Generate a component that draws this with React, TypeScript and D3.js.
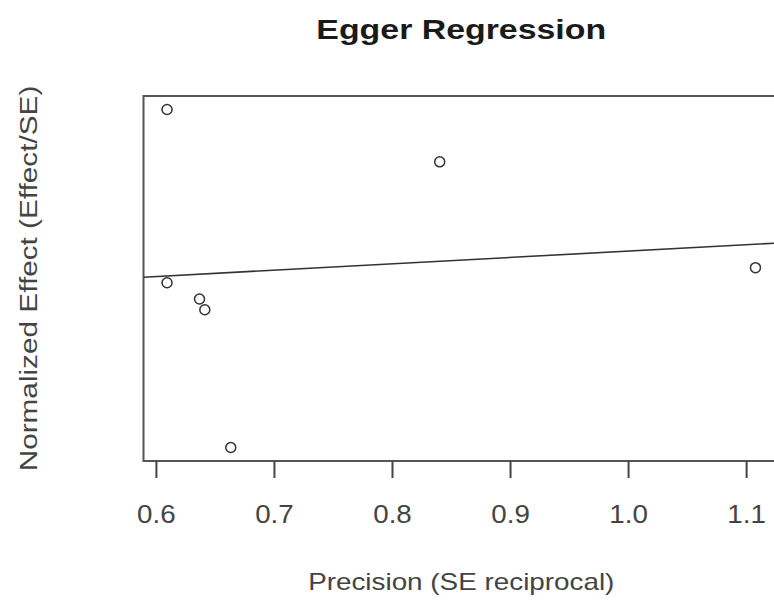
import React, { useEffect, useRef } from "react";
import * as d3 from "d3";

// Egger regression: precision (1/SE) vs normalized effect (Effect/SE)
const precision = [0.609, 0.609, 0.6365, 0.641, 0.663, 0.84, 1.1075];
const normEffect = [3.15, 0.27, 0.0, -0.18, -2.47, 2.28, 0.52];
const xTicks = [0.6, 0.7, 0.8, 0.9, 1.0, 1.1];

const TITLE = "Egger Regression";
const X_LABEL = "Precision (SE reciprocal)";
const Y_LABEL = "Normalized Effect (Effect/SE)";

const App: React.FC = () => {
    const svgRef = useRef<SVGSVGElement | null>(null);

    useEffect(() => {
        if (!svgRef.current) return;
        const WIDTH = 774;
        const HEIGHT = 604;
        const BOX = { left: 143.5, top: 96, right: 779, bottom: 461 };

        const svg = d3.select(svgRef.current);
        svg.selectAll("*").remove();
        svg.attr("width", WIDTH).attr("height", HEIGHT);

        const font = "'Liberation Sans', Arial, sans-serif";
        const pts = precision.map((x, i) => ({ x, y: normEffect[i] }));

        // R style: data range padded by 4% on each side
        const pad = (ext: [number, number]) => {
            const d = (ext[1] - ext[0]) * 0.04;
            return [ext[0] - d, ext[1] + d];
        };
        const xScale = d3.scaleLinear()
            .domain(pad(d3.extent(precision) as [number, number]))
            .range([BOX.left, BOX.right]);
        const yScale = d3.scaleLinear()
            .domain(pad(d3.extent(normEffect) as [number, number]))
            .range([BOX.bottom, BOX.top]);

        // ── least squares fit ──
        const mx = d3.mean(precision)!;
        const my = d3.mean(normEffect)!;
        const sxy = d3.sum(pts, (p) => (p.x - mx) * (p.y - my));
        const sxx = d3.sum(pts, (p) => (p.x - mx) ** 2);
        const slope = sxy / sxx;
        const intercept = my - slope * mx;

        const defs = svg.append("defs");
        defs.append("clipPath").attr("id", "plot-clip")
            .append("rect")
            .attr("x", BOX.left).attr("y", BOX.top)
            .attr("width", BOX.right - BOX.left).attr("height", BOX.bottom - BOX.top);

        // ── box ──
        svg.append("rect")
            .attr("x", BOX.left).attr("y", BOX.top)
            .attr("width", BOX.right - BOX.left).attr("height", BOX.bottom - BOX.top)
            .attr("fill", "none").attr("stroke", "#555").attr("stroke-width", 2);

        // ── x axis ticks ──
        const axis = svg.append("g");
        axis.selectAll("line")
            .data(xTicks)
            .enter()
            .append("line")
            .attr("x1", (d) => xScale(d)).attr("x2", (d) => xScale(d))
            .attr("y1", BOX.bottom).attr("y2", BOX.bottom + 17)
            .attr("stroke", "#444").attr("stroke-width", 2);
        axis.selectAll("text")
            .data(xTicks)
            .enter()
            .append("text")
            .attr("transform", (d) => `translate(${xScale(d)},523) scale(1.11,1)`)
            .attr("text-anchor", "middle")
            .attr("font-family", font).attr("font-size", 25)
            .attr("fill", "#444")
            .text((d) => d3.format(".1f")(d));

        // ── regression line ──
        const dom = xScale.domain();
        svg.append("line")
            .attr("clip-path", "url(#plot-clip)")
            .attr("x1", xScale(dom[0])).attr("y1", yScale(intercept + slope * dom[0]))
            .attr("x2", xScale(dom[1])).attr("y2", yScale(intercept + slope * dom[1]))
            .attr("stroke", "#333").attr("stroke-width", 1.6);

        // ── points ──
        svg.selectAll("circle")
            .data(pts)
            .enter()
            .append("circle")
            .attr("cx", (d) => xScale(d.x))
            .attr("cy", (d) => yScale(d.y))
            .attr("r", 5)
            .attr("fill", "none")
            .attr("stroke", "#333")
            .attr("stroke-width", 1.5);

        // ── titles (text in the source is drawn a little wide) ──
        const cx = (BOX.left + BOX.right) / 2;
        svg.append("text")
            .attr("transform", `translate(${cx},39) scale(1.21,1)`)
            .attr("text-anchor", "middle")
            .attr("font-family", font).attr("font-size", 28).attr("font-weight", "bold")
            .attr("fill", "#1a1a1a")
            .text(TITLE);
        svg.append("text")
            .attr("transform", `translate(${cx},590) scale(1.16,1)`)
            .attr("text-anchor", "middle")
            .attr("font-family", font).attr("font-size", 24)
            .attr("fill", "#444")
            .text(X_LABEL);
        svg.append("text")
            .attr("transform", `translate(37,${(BOX.top + BOX.bottom) / 2}) rotate(-90) scale(1.24,1)`)
            .attr("text-anchor", "middle")
            .attr("font-family", font).attr("font-size", 24)
            .attr("fill", "#444")
            .text(Y_LABEL);
    }, []);

    return (
        <div style={{ position: "absolute", left: 0, top: 0, background: "#fff" }}>
            <svg ref={svgRef} style={{ display: "block" }} />
        </div>
    );
};

export default App;
